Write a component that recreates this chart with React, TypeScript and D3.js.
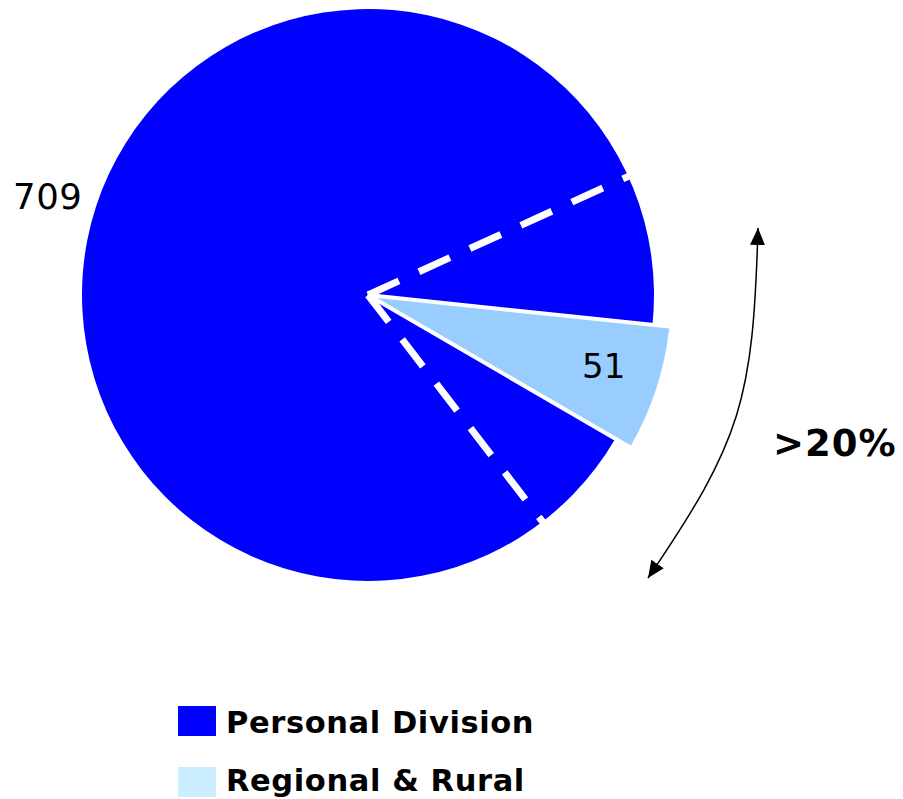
import React from "react";
import * as d3 from "d3";

const categories = ["Regional & Rural", "Personal Division"];
const values = [51, 709];
const sliceColors = ["#99CCFF", "#0000FF"];
const legendLabels = ["Personal Division", "Regional & Rural"];
const legendColors = ["#0000FF", "#CCECFF"];
const boundaryAnglesDeg = [65.5, 142.4];
const spanLabel = ">20%";

const W = 903;
const H = 799;
const cx = 368;
const cy = 295;
const R = 286;
const Rlight = 305;
const startDeg = 96;

export default function App() {
  const pie = d3
    .pie<number>()
    .sort(null)
    .value((d) => d)
    .startAngle((startDeg * Math.PI) / 180)
    .endAngle((startDeg * Math.PI) / 180 + 2 * Math.PI);
  const arcs = pie(values);
  const arcBlue = d3.arc<d3.PieArcDatum<number>>().innerRadius(0).outerRadius(R);
  const arcLight = d3.arc<d3.PieArcDatum<number>>().innerRadius(0).outerRadius(Rlight);

  const rad = (deg: number) => (deg * Math.PI) / 180;
  const pt = (deg: number, r: number) => [Math.sin(rad(deg)) * r, -Math.cos(rad(deg)) * r];

  const arrowPath = "M758,228 C753,400 742,440 648,578";

  return (
    <svg
      width={W}
      height={H}
      style={{ position: "absolute", left: 0, top: 0, background: "#fff" }}
      fontFamily="'DejaVu Sans', Verdana, sans-serif"
    >
      <defs>
        <marker id="ah" viewBox="0 0 10 10" refX="10" refY="5" markerWidth="17" markerHeight="15" markerUnits="userSpaceOnUse" orient="auto-start-reverse" preserveAspectRatio="none">
          <path d="M0,0 L10,5 L0,10 Z" fill="#000" />
        </marker>
      </defs>
      <g transform={`translate(${cx},${cy})`}>
        <path d={arcBlue(arcs[1]) || ""} fill={sliceColors[1]} />
        <path d={arcLight(arcs[0]) || ""} fill={sliceColors[0]} stroke="#fff" strokeWidth={4} strokeLinejoin="miter" />
        {boundaryAnglesDeg.map((a, i) => {
          const [x, y] = pt(a, R + 2);
          return (
            <line key={i} x1={0} y1={0} x2={x} y2={y} stroke="#fff" strokeWidth={7} strokeDasharray="34 22" />
          );
        })}
      </g>
      <text x={13} y={209} fontSize={35.5} letterSpacing={0.6} fill="#000">{values[1]}</text>
      <text x={582} y={378} fontSize={34} fill="#000">{values[0]}</text>
      <path d={arrowPath} fill="none" stroke="#000" strokeWidth={1.5} markerStart="url(#ah)" markerEnd="url(#ah)" />
      <text x={773} y={456} fontSize={37} fontWeight="bold" letterSpacing={1} fill="#000">{spanLabel}</text>
      {legendLabels.map((l, i) => (
        <g key={l} transform={`translate(178,${706 + i * 61})`}>
          <rect x={0} y={0} width={38} height={30} fill={legendColors[i]} />
          <text x={48} y={i === 0 ? 27 : 24} fontSize={30.5} fontWeight="bold" letterSpacing={0.6} fill="#000">{l}</text>
        </g>
      ))}
    </svg>
  );
}
